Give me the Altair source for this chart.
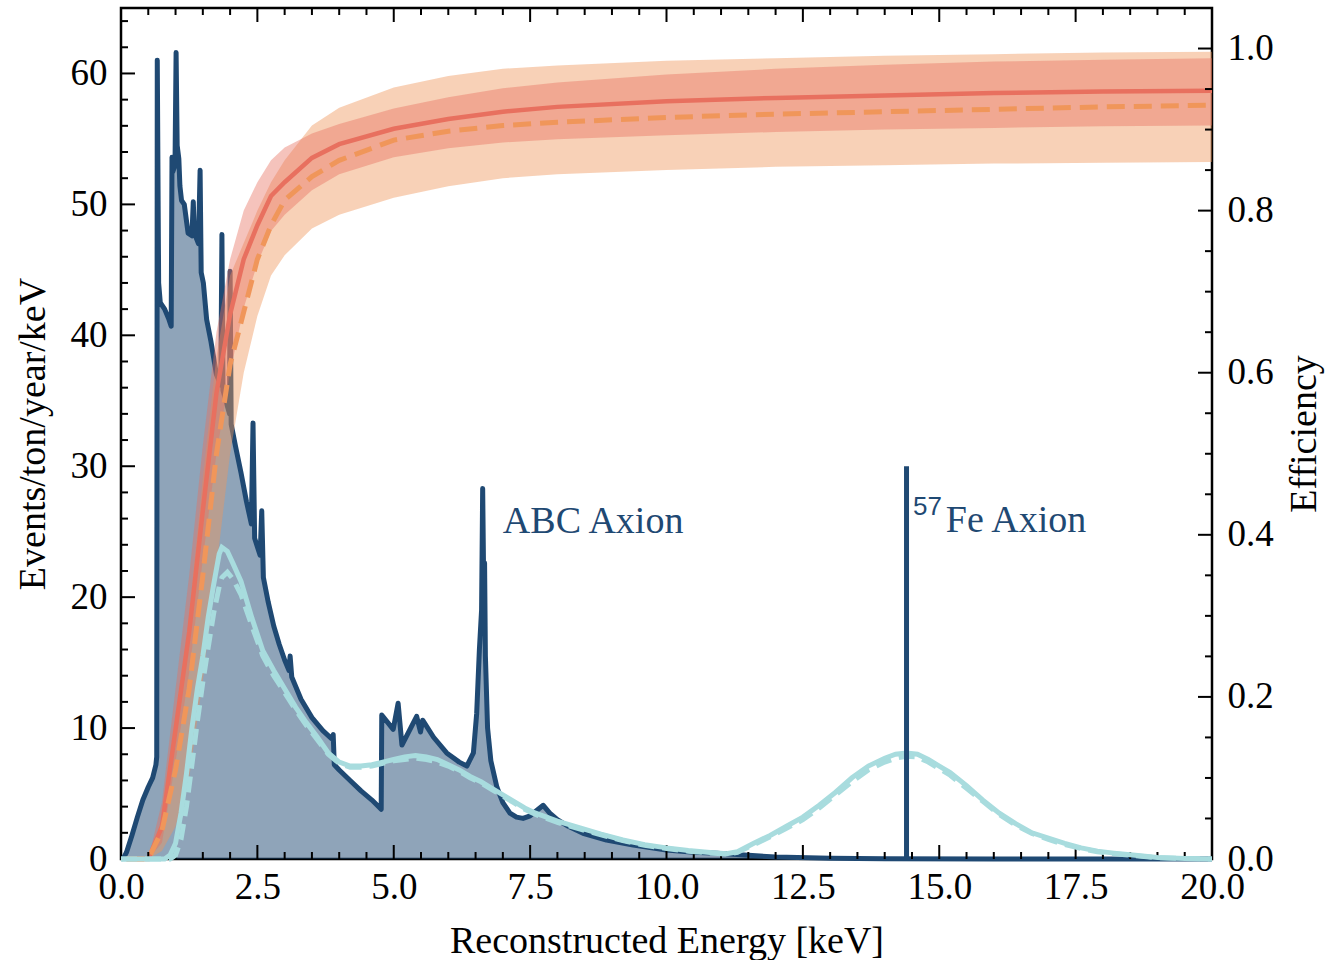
import altair as alt
import pandas as pd

navy = "#1f4973"
cyan = "#a8dcde"
red = "#e8705f"
orange = "#f0965a"
SERIF = "Liberation Serif"

# ---- background spectrum (left axis, events/ton/year/keV) ----
bg_E = [0.00, 0.05, 0.10, 0.20, 0.30, 0.40, 0.50, 0.58, 0.64, 0.655, 0.665, 0.69, 0.72, 0.80, 0.88, 0.92,
        0.935, 0.95, 0.99, 1.01, 1.03, 1.06, 1.08, 1.11, 1.16, 1.23, 1.30, 1.325, 1.345, 1.42, 1.45, 1.47,
        1.51, 1.57, 1.65, 1.75, 1.83, 1.85, 1.87, 1.95, 1.99, 2.00, 2.02, 2.10, 2.20, 2.30, 2.39, 2.42,
        2.45, 2.55, 2.58, 2.61, 2.70, 2.80, 2.90, 3.00, 3.08, 3.10, 3.13, 3.30, 3.50, 3.70, 3.86, 3.89,
        3.91, 4.00, 4.20, 4.40, 4.60, 4.77, 4.78, 4.99, 5.08, 5.15, 5.42, 5.49, 5.53, 5.73, 5.97, 6.20,
        6.34, 6.46, 6.52, 6.57, 6.61, 6.63, 6.645, 6.665, 6.68, 6.72, 6.78, 6.89, 7.00, 7.13, 7.25, 7.37,
        7.50, 7.62, 7.74, 7.86, 8.00, 8.20, 8.47, 8.90, 9.39, 10.0, 10.5, 10.92, 11.5, 12.0, 13.0, 14.0,
        16.0, 20.0]
bg_v = [0.0, 0.1, 0.5, 1.8, 3.2, 4.5, 5.5, 6.2, 7.2, 7.8, 61.0, 44.0, 42.5, 42.0, 41.2, 40.7,
        53.6, 52.5, 53.0, 61.6, 54.5, 53.5, 51.4, 50.3, 50.0, 47.8, 47.6, 50.2, 47.8, 47.0, 52.6, 44.8,
        44.0, 41.2, 39.5, 37.0, 36.2, 47.7, 35.8, 34.6, 34.0, 44.9, 33.2, 31.5, 29.5, 27.3, 25.6, 33.3,
        24.5, 23.2, 26.6, 21.5, 19.6, 17.8, 16.4, 15.2, 14.4, 15.5, 13.9, 12.2, 10.8, 9.8, 9.2, 9.5,
        7.2, 6.8, 6.0, 5.2, 4.5, 3.8, 11.0, 9.9, 11.9, 8.7, 10.9, 9.7, 10.6, 9.3, 8.1, 7.4,
        7.1, 8.1, 11.1, 16.0, 19.0, 28.3, 22.6, 22.6, 15.5, 10.0, 7.5, 5.5, 4.3, 3.5, 3.2, 3.1,
        3.3, 3.7, 4.1, 3.5, 3.0, 2.5, 1.96, 1.45, 1.07, 0.69, 0.52, 0.43, 0.28, 0.15, 0.06, 0.02,
        0.0, 0.0]

# ---- axion signal spectra (left axis) ----
sig_E = [0.0, 0.8, 0.9, 1.0, 1.1, 1.2, 1.3, 1.4, 1.5, 1.6, 1.7, 1.8, 1.85, 1.95, 2.05, 2.2, 2.4, 2.6, 2.8,
         3.0, 3.2, 3.4, 3.6, 3.8, 4.0, 4.2, 4.4, 4.6, 4.8, 5.0, 5.2, 5.4, 5.6, 5.8, 6.0, 6.2, 6.4, 6.6,
         6.8, 7.0, 7.2, 7.4, 7.6, 7.8, 8.0, 8.4, 8.8, 9.2, 9.6, 10.0, 10.4, 10.8, 11.1, 11.3, 11.6, 11.9,
         12.2, 12.5, 12.8, 13.1, 13.4, 13.7, 14.0, 14.2, 14.4, 14.6, 14.8, 15.0, 15.2, 15.5, 15.8, 16.1,
         16.4, 16.7, 17.0, 17.3, 17.6, 17.9, 18.2, 18.55, 19.0, 19.5, 20.0]
sig_solid = [0, 0, 0.3, 1.2, 3.5, 6.5, 10.0, 13.0, 15.5, 18.5, 21.0, 23.3, 23.8, 23.5, 22.6, 21.2, 18.4,
             15.9, 14.4, 13.0, 11.6, 10.4, 9.3, 8.1, 7.4, 7.1, 7.1, 7.2, 7.4, 7.6, 7.8, 7.9, 7.8, 7.6,
             7.2, 6.8, 6.3, 5.9, 5.4, 4.9, 4.4, 3.9, 3.5, 3.2, 2.9, 2.4, 1.9, 1.45, 1.1, 0.85, 0.65,
             0.5, 0.4, 0.55, 1.2, 1.8, 2.5, 3.2, 4.1, 5.1, 6.2, 7.1, 7.7, 8.0, 8.1, 8.0, 7.6, 7.1, 6.6,
             5.6, 4.5, 3.5, 2.7, 2.0, 1.6, 1.2, 0.85, 0.6, 0.45, 0.3, 0.12, 0.03, 0.0]
sig_dash = [0, 0, 0.0, 0.3, 1.5, 4.0, 7.2, 10.5, 13.5, 16.2, 18.8, 20.8, 21.5, 21.9, 21.4, 20.2, 17.8,
            15.5, 14.0, 12.7, 11.4, 10.2, 9.1, 8.0, 7.3, 7.0, 7.0, 7.1, 7.3, 7.5, 7.6, 7.7, 7.6, 7.4,
            7.1, 6.7, 6.2, 5.8, 5.3, 4.8, 4.3, 3.8, 3.4, 3.1, 2.8, 2.3, 1.85, 1.4, 1.05, 0.8, 0.6,
            0.45, 0.38, 0.5, 1.1, 1.7, 2.35, 3.0, 3.9, 4.9, 5.9, 6.8, 7.4, 7.7, 7.85, 7.8, 7.4, 6.9,
            6.4, 5.4, 4.4, 3.4, 2.6, 1.95, 1.5, 1.1, 0.8, 0.55, 0.4, 0.28, 0.1, 0.03, 0.0]

# ---- efficiency curves (right axis) ----
eff_E = [0.1, 0.5, 0.75, 1.0, 1.25, 1.5, 1.75, 2.0, 2.25, 2.5, 2.75, 3.0, 3.5, 4.0, 5.0, 6.0, 7.0, 8.0,
         10.0, 12.0, 14.0, 16.0, 18.0, 20.0]
eff_solid = [0, 0, 0.04, 0.16, 0.28, 0.43, 0.575, 0.672, 0.74, 0.782, 0.818, 0.835, 0.865, 0.882, 0.901,
             0.913, 0.922, 0.928, 0.935, 0.939, 0.942, 0.945, 0.947, 0.948]
eff_dash = [0, 0, 0.035, 0.11, 0.21, 0.35, 0.50, 0.61, 0.675, 0.74, 0.782, 0.813, 0.842, 0.862, 0.887,
            0.898, 0.905, 0.909, 0.915, 0.919, 0.922, 0.925, 0.928, 0.93]
red_hi = [0, 0, 0.07, 0.21, 0.35, 0.51, 0.65, 0.74, 0.80, 0.835, 0.862, 0.878, 0.895, 0.907, 0.926, 0.94,
          0.951, 0.958, 0.968, 0.975, 0.98, 0.984, 0.986, 0.988]
red_lo = [0, 0, 0.02, 0.12, 0.23, 0.37, 0.50, 0.60, 0.68, 0.735, 0.775, 0.795, 0.825, 0.845, 0.866,
          0.877, 0.884, 0.888, 0.893, 0.897, 0.9, 0.902, 0.904, 0.905]
orange_hi = [0, 0, 0.05, 0.15, 0.30, 0.47, 0.62, 0.72, 0.76, 0.80, 0.835, 0.862, 0.905, 0.927, 0.952,
             0.966, 0.975, 0.979, 0.985, 0.988, 0.991, 0.993, 0.995, 0.996]
orange_lo = [0, 0, 0.01, 0.04, 0.10, 0.22, 0.36, 0.50, 0.60, 0.67, 0.72, 0.745, 0.778, 0.795, 0.816,
             0.83, 0.84, 0.845, 0.85, 0.854, 0.856, 0.858, 0.859, 0.86]

# ---- axis ticks ----
x_major = [0, 2.5, 5, 7.5, 10, 12.5, 15, 17.5, 20]
x_minor = [0.5, 1, 1.5, 2, 3, 3.5, 4, 4.5, 5.5, 6, 6.5, 7, 8, 8.5, 9, 9.5, 10.5, 11, 11.5, 12, 13, 13.5,
           14, 14.5, 15.5, 16, 16.5, 17, 18, 18.5, 19, 19.5]
yl_major = [0, 10, 20, 30, 40, 50, 60]
yl_minor = [2, 4, 6, 8, 12, 14, 16, 18, 22, 24, 26, 28, 32, 34, 36, 38, 42, 44, 46, 48, 52, 54, 56, 58,
            62, 64]
yr_major = [0, 0.2, 0.4, 0.6, 0.8, 1.0]
yr_minor = [0.05, 0.1, 0.15, 0.25, 0.3, 0.35, 0.45, 0.5, 0.55, 0.65, 0.7, 0.75, 0.85, 0.9, 0.95]

# ---- annotations ----
ann_E = [7.0, 15.12]
ann_v = [24.9, 25.0]
ann_text = ["ABC Axion", "Fe Axion"]
sup_E = [14.52]
sup_v = [26.3]
sup_text = ["57"]
fe_line_E = [14.4]
fe_line_top = [30]

W, H = 1091, 851
MAJ, MIN = 14, 7

x_scale = alt.Scale(domain=[0, 20], nice=False, zero=False)
yl_scale = alt.Scale(domain=[0, 65], nice=False)
yr_scale = alt.Scale(domain=[0, 1.05], nice=False)

common = dict(tickSize=0, domain=False, grid=False, labelFlush=False, labelOverlap=False,
              labelFont=SERIF, labelFontSize=37, labelColor="black",
              titleFont=SERIF, titleFontSize=38, titleFontWeight="normal", titleColor="black")

x_axis = alt.Axis(values=x_major, format=".1f", labelPadding=10, title="Reconstructed Energy [keV]",
                  titlePadding=17, orient="bottom", **common)
left_axis = alt.Axis(values=yl_major, format="d", labelPadding=14, title="Events/ton/year/keV",
                     titlePadding=18, orient="left", **common)
right_axis = alt.Axis(values=yr_major, format=".1f", labelPadding=15, title="Efficiency",
                      titlePadding=50, titleAngle=270, orient="right", **common)

X = alt.X("E:Q", scale=x_scale, axis=x_axis)

# Group A: background spectrum
bg_df = pd.DataFrame({"E": bg_E, "v": bg_v})
YL = alt.Y("v:Q", scale=yl_scale, axis=left_axis)
bg_fill = alt.Chart(bg_df).mark_area(color=navy, opacity=0.5).encode(x=X, y=YL)
bg_line = alt.Chart(bg_df).mark_line(color=navy, strokeWidth=5, strokeJoin="round").encode(x=X, y=YL)
group_a = alt.layer(bg_fill, bg_line)

# Group B: efficiency
eff_df = pd.DataFrame({"E": eff_E, "solid": eff_solid, "dash": eff_dash, "r_lo": red_lo, "r_hi": red_hi,
                       "o_lo": orange_lo, "o_hi": orange_hi})
def YR(field):
    return alt.Y(field, scale=yr_scale, axis=right_axis)

o_band = alt.Chart(eff_df).mark_area(color=orange, opacity=0.44).encode(x=X, y=YR("o_lo:Q"), y2="o_hi:Q")
r_band = alt.Chart(eff_df).mark_area(color=red, opacity=0.42).encode(x=X, y=YR("r_lo:Q"), y2="r_hi:Q")
r_line = alt.Chart(eff_df).mark_line(color=red, strokeWidth=4.5).encode(x=X, y=YR("solid:Q"))
o_line = alt.Chart(eff_df).mark_line(color=orange, strokeWidth=5, strokeDash=[18, 9]).encode(
    x=X, y=YR("dash:Q"))
rt_major = alt.Chart(pd.DataFrame({"t": yr_major})).mark_rule(color="black", strokeWidth=2).encode(
    y=YR("t:Q"), x=alt.value(W), x2=alt.value(W - MAJ))
rt_minor = alt.Chart(pd.DataFrame({"t": yr_minor})).mark_rule(color="black", strokeWidth=2).encode(
    y=YR("t:Q"), x=alt.value(W), x2=alt.value(W - MIN))
group_b = alt.layer(o_band, r_band, r_line, o_line, rt_major, rt_minor)

# Group C: signal, annotations, left/top/bottom ticks
def YC(field):
    return alt.Y(field, scale=yl_scale, axis=None)

sig_df = pd.DataFrame({"E": sig_E, "s": sig_solid, "d": sig_dash})
lt_major = alt.Chart(pd.DataFrame({"t": yl_major})).mark_rule(color="black", strokeWidth=2).encode(
    y=YC("t:Q"), x=alt.value(0), x2=alt.value(MAJ))
lt_minor = alt.Chart(pd.DataFrame({"t": yl_minor})).mark_rule(color="black", strokeWidth=2).encode(
    y=YC("t:Q"), x=alt.value(0), x2=alt.value(MIN))
xmaj_df = pd.DataFrame({"E": x_major})
xmin_df = pd.DataFrame({"E": x_minor})
bt_major = alt.Chart(xmaj_df).mark_rule(color="black", strokeWidth=2).encode(
    x=X, y=alt.value(H), y2=alt.value(H - MAJ))
bt_minor = alt.Chart(xmin_df).mark_rule(color="black", strokeWidth=2).encode(
    x=X, y=alt.value(H), y2=alt.value(H - MIN))
tt_major = alt.Chart(xmaj_df).mark_rule(color="black", strokeWidth=2).encode(
    x=X, y=alt.value(0), y2=alt.value(MAJ))
tt_minor = alt.Chart(xmin_df).mark_rule(color="black", strokeWidth=2).encode(
    x=X, y=alt.value(0), y2=alt.value(MIN))

sig_line = alt.Chart(sig_df).mark_line(color=cyan, strokeWidth=5).encode(x=X, y=YC("s:Q"))
sig_dline = alt.Chart(sig_df).mark_line(color=cyan, strokeWidth=5, strokeDash=[16, 8]).encode(
    x=X, y=YC("d:Q"))
fe_df = pd.DataFrame({"E": fe_line_E, "lo": [0], "hi": fe_line_top})
fe_rule = alt.Chart(fe_df).mark_rule(color=navy, strokeWidth=5).encode(x=X, y=YC("lo:Q"), y2="hi:Q")
ann_df = pd.DataFrame({"E": ann_E, "v": ann_v, "label": ann_text})
ann = alt.Chart(ann_df).mark_text(font=SERIF, fontSize=38, color=navy, align="left",
                                  baseline="alphabetic").encode(x=X, y=YC("v:Q"), text="label:N")
sup_df = pd.DataFrame({"E": sup_E, "v": sup_v, "label": sup_text})
sup = alt.Chart(sup_df).mark_text(font="Liberation Sans", fontSize=26, color=navy, align="left",
                                  baseline="alphabetic").encode(x=X, y=YC("v:Q"), text="label:N")
group_c = alt.layer(lt_major, lt_minor, bt_major, bt_minor, tt_major, tt_minor,
                    sig_line, sig_dline, fe_rule, ann, sup)

chart = alt.layer(group_a, group_b, group_c).resolve_scale(y="independent").properties(
    width=W, height=H,
    autosize=alt.AutoSizeParams(type="none"),
    padding={"left": 121, "top": 8, "right": 115, "bottom": 101},
    background="white",
).configure_view(stroke="black", strokeWidth=2.5)

chart.save("out.html", embed_options={"renderer": "svg", "actions": False})
